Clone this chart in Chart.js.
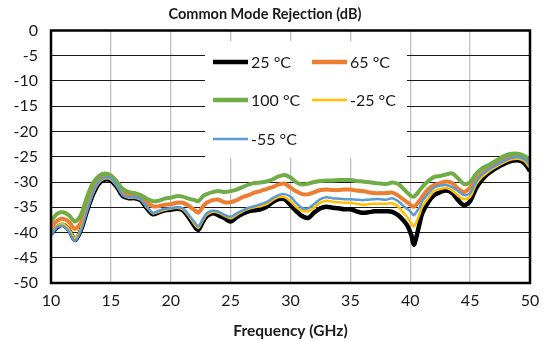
<!DOCTYPE html>
<html>
<head>
<meta charset="utf-8">
<title>Common Mode Rejection</title>
<script src="https://cdn.jsdelivr.net/npm/chart.js@4.4.1/dist/chart.umd.min.js"></script>
<style>
  html, body { margin: 0; padding: 0; background: #fff; }
  #wrap { width: 551px; height: 341px; position: relative; }
</style>
</head>
<body>
<div id="wrap"><canvas id="cmrChart"></canvas></div>
<script>
// Frequency points (GHz) shared by all temperature sweeps
const freqGHz = [10, 10.5, 11, 11.5, 12, 12.5, 13, 13.5, 14, 14.5, 15, 15.5, 16, 16.5, 17, 17.5, 18, 18.5, 19, 19.5,
  20, 20.5, 21, 21.5, 22, 22.3, 22.7, 23, 23.5, 24, 24.5, 25, 25.5, 26, 26.5, 27, 27.5, 28, 28.5, 29, 29.5,
  30, 30.5, 31, 31.5, 32, 32.5, 33, 33.5, 34, 34.5, 35, 35.5, 36, 36.5, 37, 37.5, 38, 38.5, 39, 39.5,
  39.8, 40.1, 40.3, 40.5, 40.8, 41, 41.5, 42, 42.5, 43, 43.5, 44, 44.5, 45, 45.5, 46, 46.5, 47, 47.5,
  48, 48.5, 49, 49.5, 50];

// CMR in dB per temperature
const cmr25C = [-40.3, -39.0, -38.5, -39.5, -41.5, -39.5, -35.8, -32.5, -30.3, -29.5, -29.7, -31.0, -32.8, -33.2, -33.2, -33.6, -35.2, -36.4, -36.0, -35.6,
  -35.5, -35.3, -35.6, -37.0, -38.8, -39.5, -37.8, -36.8, -36.2, -36.6, -37.2, -37.8, -37.0, -36.3, -35.8, -35.6, -35.4, -34.9, -34.0, -33.4, -33.4,
  -34.6, -35.8, -36.8, -37.1, -36.0, -35.2, -34.9, -35.1, -35.2, -35.4, -35.4, -35.8, -36.1, -36.0, -35.8, -35.8, -35.8, -35.9, -36.6, -37.8,
  -38.8, -40.6, -42.4, -41.0, -38.0, -36.2, -34.0, -32.6, -32.0, -31.7, -32.2, -33.6, -34.6, -33.8, -31.2, -29.5, -28.3, -27.5, -26.8,
  -26.2, -25.8, -25.7, -26.2, -27.8];

const cmr65C = [-39.0, -37.7, -37.3, -37.9, -39.3, -38.0, -34.5, -31.0, -29.3, -28.8, -29.1, -30.4, -32.0, -32.6, -32.7, -33.0, -34.0, -34.8, -34.8, -34.5,
  -34.4, -34.1, -34.1, -34.7, -35.6, -36.1, -34.8, -34.1, -33.6, -33.5, -34.0, -34.0, -33.6, -33.0, -32.6, -32.1, -31.8, -31.4, -31.0, -30.5, -30.3,
  -31.1, -31.9, -32.4, -32.4, -32.0, -31.6, -31.5, -31.6, -31.6, -31.5, -31.5, -31.7, -31.8, -32.0, -32.2, -32.2, -32.2, -32.1, -32.7, -33.6,
  -34.1, -34.7, -34.9, -34.5, -33.6, -32.9, -31.4, -30.6, -30.2, -29.9, -30.2, -31.3, -32.0, -31.1, -29.5, -28.3, -27.4, -26.7, -25.8,
  -25.1, -24.9, -24.9, -25.4, -26.3];

const cmr100C = [-37.8, -36.3, -36.0, -36.6, -37.8, -36.5, -33.0, -30.2, -28.8, -28.3, -28.7, -29.9, -31.4, -32.0, -32.2, -32.6, -33.3, -33.8, -33.7, -33.3,
  -33.1, -32.8, -32.9, -33.3, -33.6, -33.8, -32.8, -32.4, -32.0, -31.8, -32.0, -31.8, -31.5, -31.0, -30.5, -30.2, -30.1, -29.9, -29.5, -28.9, -28.6,
  -29.1, -30.1, -30.5, -30.3, -30.0, -29.8, -29.7, -29.7, -29.6, -29.6, -29.6, -29.8, -29.9, -30.0, -30.2, -30.3, -30.4, -30.1, -30.4, -31.5,
  -32.2, -32.8, -32.9, -32.5, -31.6, -31.0, -29.8, -29.0, -28.8, -28.5, -28.3, -29.3, -30.4, -30.0, -28.4, -27.3, -26.7, -26.0, -25.3,
  -24.7, -24.4, -24.4, -24.8, -25.6];

const cmrMinus25C = [-40.1, -38.8, -38.3, -39.3, -41.2, -39.2, -35.6, -32.3, -30.1, -29.3, -29.5, -30.8, -32.6, -33.1, -33.1, -33.5, -35.0, -36.2, -35.9, -35.5,
  -35.3, -35.1, -35.4, -36.7, -38.4, -39.1, -37.5, -36.5, -35.9, -36.1, -36.7, -37.2, -36.5, -35.8, -35.3, -35.0, -34.8, -34.4, -33.6, -33.0, -33.0,
  -33.8, -35.0, -35.7, -35.8, -35.0, -34.1, -33.7, -33.9, -34.0, -34.1, -34.1, -34.3, -34.5, -34.4, -34.3, -34.3, -34.3, -34.2, -34.9, -36.3,
  -37.1, -38.3, -38.8, -38.0, -36.2, -34.9, -33.2, -31.8, -31.4, -31.2, -31.7, -32.7, -33.4, -32.9, -30.4, -29.0, -28.0, -27.2, -26.5,
  -25.9, -25.5, -25.4, -25.8, -27.2];

const cmrMinus55C = [-40.6, -39.0, -38.7, -39.8, -41.7, -39.6, -35.8, -32.2, -29.9, -29.1, -29.3, -30.7, -32.6, -33.0, -33.0, -33.4, -34.9, -36.1, -35.7, -35.3,
  -35.2, -35.0, -35.2, -36.5, -38.0, -38.8, -37.3, -36.2, -35.7, -35.9, -36.5, -36.9, -36.2, -35.6, -35.1, -34.8, -34.4, -34.0, -33.2, -32.6, -32.4,
  -32.9, -34.2, -35.2, -35.2, -34.3, -33.4, -33.0, -33.2, -33.3, -33.4, -33.4, -33.5, -33.6, -33.5, -33.4, -33.4, -33.5, -33.2, -33.8, -34.9,
  -35.4, -36.1, -36.6, -36.0, -34.9, -33.8, -32.3, -31.1, -30.7, -30.6, -31.0, -31.8, -32.6, -32.2, -29.9, -28.5, -27.6, -26.9, -26.2,
  -25.6, -25.2, -25.1, -25.5, -26.6];

const seriesLabels = ['25 °C', '65 °C', '100 °C', '-25 °C', '-55 °C'];
const seriesValues = [cmr25C, cmr65C, cmr100C, cmrMinus25C, cmrMinus55C];
const seriesColors = ['#000000', '#ED7D31', '#70AD47', '#FFC000', '#5B9BD5'];
const seriesWidths = [4.5, 4, 4, 2.5, 2.5];

const FONT = 'Lato, "Open Sans", sans-serif';

const datasets = seriesValues.map((vals, i) => ({
  label: seriesLabels[i],
  data: freqGHz.map((f, j) => ({ x: f, y: vals[j] })),
  borderColor: seriesColors[i],
  backgroundColor: seriesColors[i],
  borderWidth: seriesWidths[i],
  pointRadius: 0,
  tension: 0.3,
  fill: false,
  order: seriesValues.length - i   // first series ends up at the bottom
}));

// white legend box sitting inside the plot, two columns
const insideLegend = {
  id: 'insideLegend',
  beforeDatasetsDraw(chart) {
    const c = chart.ctx;
    c.save();
    c.fillStyle = '#ffffff';
    c.fillRect(205, 41, 202, 117);
    const cols = [213, 312];
    const rows = [62, 100, 139];
    c.font = '16px ' + FONT;
    c.textBaseline = 'middle';
    c.textAlign = 'left';
    chart.data.datasets.forEach((ds, i) => {
      const x = cols[i % 2];
      const y = rows[Math.floor(i / 2)];
      c.strokeStyle = ds.borderColor;
      c.lineWidth = ds.borderWidth >= 4 ? 4.5 : 2.5;
      c.beginPath();
      c.moveTo(x, y);
      c.lineTo(x + 35, y);
      c.stroke();
      c.fillStyle = '#1a1a1a';
      c.fillText(ds.label, x + 38, y + 1);
    });
    c.restore();
  }
};

// thick frame round the plot area
const plotFrame = {
  id: 'plotFrame',
  afterDatasetsDraw(chart) {
    const a = chart.chartArea;
    const c = chart.ctx;
    c.save();
    c.strokeStyle = '#000';
    c.lineWidth = 2.5;
    c.strokeRect(a.left, a.top, a.right - a.left, a.bottom - a.top);
    c.restore();
  }
};

const ctx = document.getElementById('cmrChart').getContext('2d');
const cmrChart = new Chart(ctx, {
  type: 'line',
  data: { datasets },
  options: {
    responsive: true,
    maintainAspectRatio: false,
    animation: false,
    layout: { padding: { left: 0, right: 21, top: 0, bottom: 0 } },
    plugins: {
      legend: { display: false },
      tooltip: { enabled: false },
      title: {
        display: true,
        text: 'Common Mode Rejection (dB)',
        color: '#1a1a1a',
        font: { family: FONT, size: 14.5, weight: 'bold', lineHeight: 1.2 },
        padding: { top: 6, bottom: 7.1 }
      }
    },
    scales: {
      x: {
        type: 'linear',
        min: 10,
        max: 50,
        ticks: { stepSize: 5, padding: 8, color: '#1a1a1a', font: { family: FONT, size: 16 } },
        grid: { color: '#BFBFBF', lineWidth: 1.3, drawTicks: false },
        border: { display: false },
        title: {
          display: true,
          text: 'Frequency (GHz)',
          color: '#1a1a1a',
          font: { family: FONT, size: 15.5, weight: 'bold', lineHeight: 1.2 },
          padding: { top: 0, bottom: 1 }
        },
        afterFit(scale) { scale.height = 58; }
      },
      y: {
        min: -50,
        max: 0,
        ticks: { stepSize: 5, padding: 13, color: '#1a1a1a', font: { family: FONT, size: 16 } },
        grid: { color: '#1a1a1a', lineWidth: 1, drawTicks: false },
        border: { display: false },
        afterFit(scale) { scale.width = 51; }
      }
    }
  },
  plugins: [insideLegend, plotFrame]
});
</script>
</body>
</html>
